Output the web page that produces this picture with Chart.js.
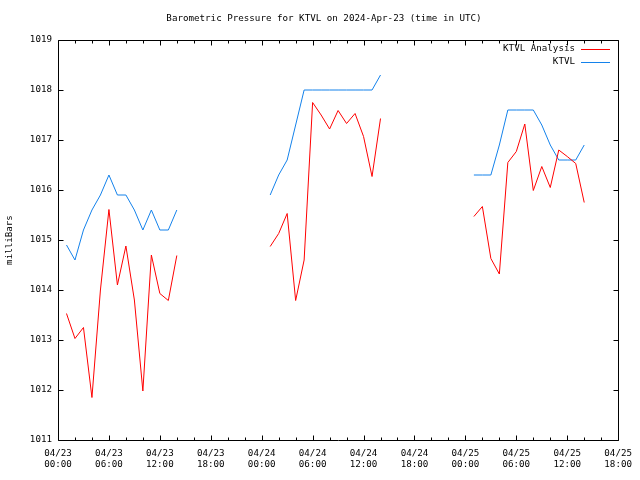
<!DOCTYPE html>
<html><head><meta charset="utf-8">
<script src="https://cdn.jsdelivr.net/npm/chart.js@4.4.1/dist/chart.umd.min.js"></script>
<style>html,body{margin:0;padding:0;background:#fff}</style>
</head><body>
<canvas id="c" width="640" height="480"></canvas>
<script>
const TITLE = "Barometric Pressure for KTVL on 2024-Apr-23 (time in UTC)";
const Y_LABEL = "milliBars";
const SERIES_NAMES = ["KTVL Analysis", "KTVL"];
const SERIES_COLORS = ["#ff0000", "rgb(20,130,235)"];

// x tick labels every 6 hours from 04/23 00:00
const xTickLabels = [
  ["04/23","00:00"],["04/23","06:00"],["04/23","12:00"],["04/23","18:00"],
  ["04/24","00:00"],["04/24","06:00"],["04/24","12:00"],["04/24","18:00"],
  ["04/25","00:00"],["04/25","06:00"],["04/25","12:00"],["04/25","18:00"]
];
const yTicks = [1011,1012,1013,1014,1015,1016,1017,1018,1019];

// observation times, hours after 04/23 00:00 UTC
const obsHours = [
  1,2,3,4,5,6,7,8,9,10,11,12,13,14,
  25,26,27,28,29,30,31,32,33,34,35,36,37,38,
  49,50,51,52,53,54,55,56,57,58,59,60,61,62
];
const analysisValues = [
  1013.53,1013.03,1013.25,1011.85,1014.0,1015.61,1014.1,1014.88,1013.8,1011.98,1014.7,1013.93,1013.79,1014.69,
  1014.87,1015.13,1015.53,1013.79,1014.6,1017.75,1017.5,1017.22,1017.59,1017.33,1017.53,1017.07,1016.27,1017.43,
  1015.47,1015.67,1014.63,1014.32,1016.55,1016.77,1017.32,1015.99,1016.47,1016.05,1016.8,1016.67,1016.53,1015.75
];
const stationValues = [
  1014.9,1014.6,1015.2,1015.6,1015.9,1016.3,1015.9,1015.9,1015.6,1015.2,1015.6,1015.2,1015.2,1015.6,
  1015.9,1016.3,1016.6,1017.3,1018.0,1018.0,1018.0,1018.0,1018.0,1018.0,1018.0,1018.0,1018.0,1018.3,
  1016.3,1016.3,1016.3,1016.9,1017.6,1017.6,1017.6,1017.6,1017.3,1016.9,1016.6,1016.6,1016.6,1016.9
];

function toPoints(hours, vals) {
  const pts = [];
  for (let i = 0; i < hours.length; i++) {
    if (i > 0 && hours[i] - hours[i-1] > 1) pts.push({x: hours[i-1] + 0.5, y: null});
    pts.push({x: hours[i], y: vals[i]});
  }
  return pts;
}

const FONT = {family: "'DejaVu Sans Mono', 'Liberation Mono', monospace", size: 9.2};
const FONTSTR = "9.2px 'DejaVu Sans Mono', 'Liberation Mono', monospace";

const gnuplotFrame = {
  id: 'gnuplotFrame',
  afterDraw(chart) {
    const ctx = chart.ctx, a = chart.chartArea;
    const xs = chart.scales.x, ys = chart.scales.y;
    ctx.save();
    ctx.strokeStyle = '#000';
    ctx.lineWidth = 1;
    ctx.beginPath();
    const L = Math.round(a.left) + 0.5, R = Math.round(a.right) + 0.5;
    const T = Math.round(a.top) + 0.5, B = Math.round(a.bottom) + 0.5;
    ctx.rect(L, T, R - L, B - T);
    // x ticks (major every 6h, minor every 2h)
    for (let h = 0; h <= 66; h += 2) {
      const px = Math.round(xs.getPixelForValue(h)) + 0.5;
      const len = (h % 6 === 0) ? 5 : 3;
      ctx.moveTo(px, B); ctx.lineTo(px, B - len);
      ctx.moveTo(px, T); ctx.lineTo(px, T + len);
    }
    for (const v of yTicks) {
      const py = Math.round(ys.getPixelForValue(v)) + 0.5;
      ctx.moveTo(L, py); ctx.lineTo(L + 5, py);
      ctx.moveTo(R, py); ctx.lineTo(R - 5, py);
    }
    ctx.stroke();
    // title
    ctx.fillStyle = '#000';
    ctx.font = FONTSTR;
    ctx.textAlign = 'center';
    ctx.textBaseline = 'middle';
    ctx.fillText(TITLE, 324, 19);
    // y label
    ctx.save();
    ctx.translate(10, (a.top + a.bottom) / 2);
    ctx.rotate(-Math.PI / 2);
    ctx.fillText(Y_LABEL, 0, 0);
    ctx.restore();
    // legend (gnuplot style: text then line sample)
    chart.data.datasets.forEach((ds, i) => {
      const y = 49 + i * 13;
      ctx.textAlign = 'right';
      ctx.fillStyle = '#000';
      ctx.fillText(ds.label, 575, y);
      ctx.strokeStyle = ds.borderColor;
      ctx.beginPath();
      ctx.moveTo(581, y + 0.5); ctx.lineTo(610, y + 0.5);
      ctx.stroke();
    });
    ctx.restore();
  }
};

new Chart(document.getElementById('c'), {
  type: 'line',
  data: {
    datasets: [
      {label: SERIES_NAMES[0], data: toPoints(obsHours, analysisValues), borderColor: SERIES_COLORS[0], borderWidth: 1, pointRadius: 0, tension: 0, spanGaps: false, fill: false},
      {label: SERIES_NAMES[1], data: toPoints(obsHours, stationValues), borderColor: SERIES_COLORS[1], borderWidth: 1, pointRadius: 0, tension: 0, spanGaps: false, fill: false}
    ]
  },
  options: {
    responsive: false,
    animation: false,
    layout: {padding: {left: 0, right: 20, top: 40, bottom: 0}},
    plugins: {legend: {display: false}, title: {display: false}, tooltip: {enabled: false}},
    scales: {
      x: {
        type: 'linear', min: 0, max: 66,
        grid: {display: false, drawTicks: false},
        border: {display: false},
        afterFit(s) { s.height = 40; },
        afterBuildTicks(s) { s.ticks = xTickLabels.map((_, i) => ({value: i * 6})); },
        ticks: {
          color: '#000', font: FONT, padding: 8, maxRotation: 0, autoSkip: false,
          callback: (v) => xTickLabels[Math.round(v / 6)]
        }
      },
      y: {
        type: 'linear', min: 1011, max: 1019,
        grid: {display: false, drawTicks: false},
        border: {display: false},
        afterFit(s) { s.width = 58; },
        afterBuildTicks(s) { s.ticks = yTicks.map(v => ({value: v})); },
        ticks: {color: '#000', font: FONT, padding: 6, callback: (v) => String(v)}
      }
    }
  },
  plugins: [gnuplotFrame]
});
</script>
</body></html>
